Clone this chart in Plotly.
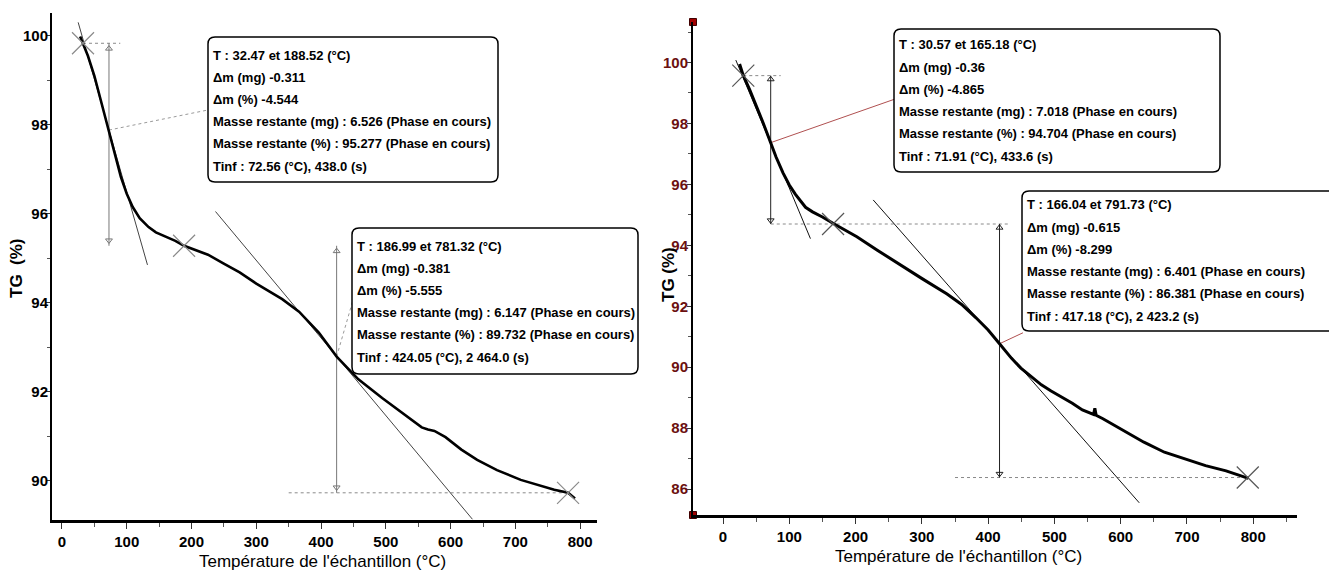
import plotly.graph_objects as go

# Reference picture size; the page body adds an 8 px margin, so the figure is drawn
# 8 px smaller and all pixel positions below are given in reference-picture pixels.
REF_W, REF_H = 1337, 575
OFF = 8
W, H = REF_W - OFF, REF_H - OFF
SANS = "Liberation Sans, Arial, sans-serif"

# ---------------- data: left sample ----------------
left_T = [28, 32.5, 40, 50, 60, 72.6, 80, 90.9, 100, 109.2, 120, 133.7, 145, 164.2, 175, 188.5,
          200, 225.4, 249.8, 274.3, 300, 320, 340, 366, 396.5, 424.05, 457.6, 494.3, 530.9,
          555.4, 565, 575, 592.1, 616.6, 641, 671.6, 708.3, 740, 760, 781.3, 788, 792]
left_TG = [99.98, 99.83, 99.55, 99.1, 98.55, 97.88, 97.42, 96.83, 96.45, 96.15, 95.9, 95.7, 95.58,
           95.46, 95.39, 95.28, 95.22, 95.08, 94.88, 94.68, 94.43, 94.25, 94.08, 93.8, 93.33,
           92.79, 92.28, 91.86, 91.46, 91.2, 91.15, 91.12, 90.98, 90.7, 90.47, 90.24, 90.02,
           89.88, 89.8, 89.73, 89.66, 89.6]
left_cross_T = [32.47, 188.52, 781.32]
left_cross_TG = [99.83, 95.28, 89.73]
left_tinf_T = [72.56, 424.05]
left_tinf_TG = [97.88, 92.79]
left_step_top = [99.83, 95.28]
left_step_bot = [95.28, 89.73]
left_tan1_T = [25, 132]
left_tan1_TG = [100.3, 94.85]
left_tan2_T = [237, 634]
left_tan2_TG = [96.05, 89.13]
left_dot_T = [[32.47, 90], [350, 781.32]]
left_dot_TG = [99.83, 89.73]
left_conn_T = [228.4, 448.5]
left_conn_TG = [98.34, 94.02]
left_box1 = ["T : 32.47 et 188.52 (°C)", "Δm (mg) -0.311", "Δm (%) -4.544",
             "Masse restante (mg) : 6.526 (Phase en cours)",
             "Masse restante (%) : 95.277 (Phase en cours)", "Tinf : 72.56 (°C), 438.0 (s)"]
left_box2 = ["T : 186.99 et 781.32 (°C)", "Δm (mg) -0.381", "Δm (%) -5.555",
             "Masse restante (mg) : 6.147 (Phase en cours)",
             "Masse restante (%) : 89.732 (Phase en cours)", "Tinf : 424.05 (°C), 2 464.0 (s)"]

# ---------------- data: right sample ----------------
right_T = [25, 30.6, 40, 50, 60, 71.9, 80, 90.5, 100, 109, 118, 124.5, 135, 150, 167.8, 185,
           201.9, 232.8, 263.7, 300.9, 338, 360, 381.3, 400, 417.2, 435, 449.4, 465, 480.3, 495,
           511.3, 527, 542.2, 555, 559, 561, 563, 573.2, 604.1, 635, 666, 697, 728, 759, 783.5, 792.8]
right_TG = [99.95, 99.57, 99.12, 98.6, 98.05, 97.37, 96.9, 96.38, 95.98, 95.68, 95.42, 95.25,
            95.1, 94.93, 94.70, 94.5, 94.28, 93.84, 93.40, 92.90, 92.40, 92.06, 91.63, 91.22,
            90.77, 90.3, 89.97, 89.68, 89.42, 89.22, 89.03, 88.82, 88.6, 88.5, 88.45, 88.65,
            88.42, 88.31, 87.93, 87.54, 87.21, 86.99, 86.77, 86.6, 86.43, 86.35]
right_cross_T = [30.57, 166.04, 791.73]
right_cross_TG = [99.57, 94.70, 86.38]
right_tinf_T = [71.91, 417.18]
right_tinf_TG = [97.37, 90.77]
right_step_top = [99.57, 94.70]
right_step_bot = [94.70, 86.38]
right_tan1_T = [19.3, 131.9]
right_tan1_TG = [100.08, 94.22]
right_tan2_T = [226.6, 628]
right_tan2_TG = [95.49, 85.55]
right_dot_T = [[30.57, 87], [72, 433], [350, 791.73]]
right_dot_TG = [99.57, 94.70, 86.38]
right_conn_T = [260.6, 452.5]
right_conn_TG = [98.81, 91.13]
right_box1 = ["T : 30.57 et 165.18 (°C)", "Δm (mg) -0.36", "Δm (%) -4.865",
              "Masse restante (mg) : 7.018 (Phase en cours)",
              "Masse restante (%) : 94.704 (Phase en cours)", "Tinf : 71.91 (°C), 433.6 (s)"]
right_box2 = ["T : 166.04 et 791.73 (°C)", "Δm (mg) -0.615", "Δm (%) -8.299",
              "Masse restante (mg) : 6.401 (Phase en cours)",
              "Masse restante (%) : 86.381 (Phase en cours)", "Tinf : 417.18 (°C), 2 423.2 (s)"]

x_ticks = [0, 100, 200, 300, 400, 500, 600, 700, 800]
left_y_ticks = [90, 92, 94, 96, 98, 100]
right_y_ticks = [86, 88, 90, 92, 94, 96, 98, 100]
x_title = "Température de l'échantillon (°C)"
y_title = "TG\u00a0\u00a0(%)"
y_title_r = "TG (%)"

LEFT_XR = [-15.4, 826]
LEFT_YR = [89.13, 100.51]
RIGHT_XR = [-45.3, 866]
RIGHT_YR = [85.15, 101.33]

fig = go.Figure()


def add_panel(xa, ya, T, TG, cT, cTG, tiT, tiTG, stop, sbot, t1T, t1TG, t2T, t2TG,
              dT, dTG, cnT, cnTG, curve_w, tan_col, arrow_col, cross_col, conn_col, conn_dash):
    kw = dict(xaxis=xa, yaxis=ya, showlegend=False, hoverinfo="skip")
    for seg, yv in zip(dT, dTG):
        fig.add_trace(go.Scatter(x=seg, y=[yv, yv], mode="lines",
                                 line=dict(color="#8a8a8a", width=1, dash="dot"), **kw))
    for tx, ty in ((t1T, t1TG), (t2T, t2TG)):
        fig.add_trace(go.Scatter(x=tx, y=ty, mode="lines",
                                 line=dict(color=tan_col, width=1), **kw))
    for i in range(2):
        fig.add_trace(go.Scatter(x=[tiT[i], tiT[i]], y=[stop[i], sbot[i]], mode="lines",
                                 line=dict(color=arrow_col, width=1), **kw))
        fig.add_trace(go.Scatter(x=[tiT[i]], y=[stop[i] - 0.12], mode="markers",
                                 marker=dict(symbol="triangle-up-open", size=6,
                                             color=arrow_col, line=dict(width=1)), **kw))
        fig.add_trace(go.Scatter(x=[tiT[i]], y=[sbot[i] + 0.12], mode="markers",
                                 marker=dict(symbol="triangle-down-open", size=6,
                                             color=arrow_col, line=dict(width=1)), **kw))
        fig.add_trace(go.Scatter(x=[tiT[i], cnT[i]], y=[tiTG[i], cnTG[i]], mode="lines",
                                 line=dict(color=conn_col, width=1, dash=conn_dash), **kw))
    fig.add_trace(go.Scatter(x=T, y=TG, mode="lines",
                             line=dict(color="black", width=curve_w), **kw))
    fig.add_trace(go.Scatter(x=cT, y=cTG, mode="markers",
                             marker=dict(symbol="x-thin-open", size=22, color=cross_col,
                                         line=dict(color=cross_col, width=1.2)), **kw))


add_panel("x", "y", left_T, left_TG, left_cross_T, left_cross_TG, left_tinf_T, left_tinf_TG,
          left_step_top, left_step_bot, left_tan1_T, left_tan1_TG, left_tan2_T, left_tan2_TG,
          left_dot_T, left_dot_TG, left_conn_T, left_conn_TG, 2.6, "#444444", "#777777",
          "#8a8a8a", "#9a9a9a", "dot")
add_panel("x2", "y2", right_T, right_TG, right_cross_T, right_cross_TG, right_tinf_T,
          right_tinf_TG, right_step_top, right_step_bot, right_tan1_T, right_tan1_TG,
          right_tan2_T, right_tan2_TG, right_dot_T, right_dot_TG, right_conn_T, right_conn_TG,
          3, "#111111", "#222222", "#555555", "#b05050", "solid")

fig.add_trace(go.Scatter(x=[RIGHT_XR[0], RIGHT_XR[0]], y=[RIGHT_YR[1], RIGHT_YR[0]],
                         mode="markers", xaxis="x2", yaxis="y2", cliponaxis=False,
                         showlegend=False, hoverinfo="skip",
                         marker=dict(symbol="square", size=7, color="#a00000",
                                     line=dict(color="#400000", width=1))))


def px2x(p):
    return (p - OFF) / W


def px2y(p):
    return 1 - (p - OFF) / H


tickfont = dict(family=SANS, size=15, color="black", weight="bold")
tickfont_r = dict(family=SANS, size=15, color="#6b1010", weight="bold")

axis_common = dict(showgrid=False, zeroline=False, showline=True, linecolor="black",
                   ticks="outside", tickcolor="#333333", tickwidth=1)

fig.update_layout(
    width=W, height=H, margin=dict(l=0, r=0, t=0, b=0),
    paper_bgcolor="white", plot_bgcolor="white", showlegend=False,
    xaxis=dict(domain=[px2x(52), px2x(597)], range=LEFT_XR, tickvals=x_ticks,
               tickfont=tickfont, linewidth=3, anchor="y", ticklen=6,
               minor=dict(dtick=50, ticks="outside", ticklen=4, tickcolor="#555555"),
               **axis_common),
    yaxis=dict(domain=[px2y(519.5), px2y(13)], range=LEFT_YR, tickvals=left_y_ticks,
               tickfont=tickfont, linewidth=2, anchor="x", ticklen=4, ticklabelstandoff=-5,
               minor=dict(dtick=1, ticks="outside", ticklen=3, tickcolor="#555555"),
               **axis_common),
    xaxis2=dict(domain=[px2x(693), px2x(1297)], range=RIGHT_XR, tickvals=x_ticks,
                tickfont=tickfont, linewidth=3, anchor="y2", ticklen=6,
                minor=dict(dtick=50, ticks="outside", ticklen=4, tickcolor="#555555"),
                **axis_common),
    yaxis2=dict(domain=[px2y(515), px2y(22)], range=RIGHT_YR, tickvals=right_y_ticks,
                tickfont=tickfont_r, linewidth=2, anchor="x2", ticklen=4, ticklabelstandoff=-4,
                minor=dict(dtick=1, ticks="outside", ticklen=3, tickcolor="#555555"),
                **axis_common),
)


def rrect(x0, y0, x1, y1, r=7):
    X = lambda p: f"{px2x(p):.5f}"
    Y = lambda p: f"{px2y(p):.5f}"
    return (f"M {X(x0 + r)},{Y(y0)} L {X(x1 - r)},{Y(y0)} Q {X(x1)},{Y(y0)} {X(x1)},{Y(y0 + r)} "
            f"L {X(x1)},{Y(y1 - r)} Q {X(x1)},{Y(y1)} {X(x1 - r)},{Y(y1)} "
            f"L {X(x0 + r)},{Y(y1)} Q {X(x0)},{Y(y1)} {X(x0)},{Y(y1 - r)} "
            f"L {X(x0)},{Y(y0 + r)} Q {X(x0)},{Y(y0)} {X(x0 + r)},{Y(y0)} Z")


boxes = [
    (left_box1, (208, 37, 498, 182), 18, 22.2),
    (left_box2, (352, 228, 638, 374), 18, 22.2),
    (right_box1, (894, 29, 1220, 172), 16, 22.2),
    (right_box2, (1022, 191, 1345, 331), 14, 22.2),
]
shapes = []
annotations = []
for lines, (x0, y0, x1, y1), off, sp in boxes:
    shapes.append(dict(type="path", path=rrect(x0, y0, x1, y1), xref="paper", yref="paper",
                       line=dict(color="black", width=1.5), fillcolor="white", layer="above"))
    for i, txt in enumerate(lines):
        annotations.append(dict(text=txt, x=px2x(x0 + 3), y=px2y(y0 + off + i * sp),
                                xref="paper", yref="paper", xanchor="left", yanchor="middle",
                                showarrow=False,
                                font=dict(family=SANS, size=13, color="black", weight="bold")))

annotations.append(dict(text=x_title, x=px2x(322), y=px2y(561), xref="paper", yref="paper",
                        showarrow=False, xanchor="center", yanchor="middle",
                        font=dict(family=SANS, size=17, color="black")))
annotations.append(dict(text=x_title, x=px2x(958), y=px2y(556), xref="paper", yref="paper",
                        showarrow=False, xanchor="center", yanchor="middle",
                        font=dict(family=SANS, size=17, color="black")))
annotations.append(dict(text=y_title, x=px2x(16), y=px2y(268), xref="paper", yref="paper",
                        showarrow=False, textangle=-90, xanchor="center", yanchor="middle",
                        font=dict(family=SANS, size=17, color="black", weight="bold")))
annotations.append(dict(text=y_title_r, x=px2x(668), y=px2y(275), xref="paper", yref="paper",
                        showarrow=False, textangle=-90, xanchor="center", yanchor="middle",
                        font=dict(family=SANS, size=17, color="black", weight="bold")))

fig.update_layout(shapes=shapes, annotations=annotations)
fig.write_html("out.html")
